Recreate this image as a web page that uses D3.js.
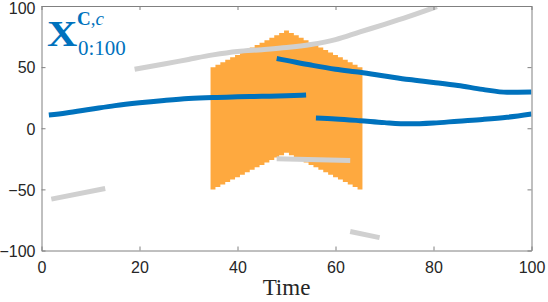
<!DOCTYPE html>
<html>
<head>
<meta charset="utf-8">
<script src="https://cdn.jsdelivr.net/npm/d3@7"></script>
<style>
  body { margin: 0; background: #fff; }
  .tick text { font-family: "Liberation Sans", Arial, sans-serif; font-size: 16px; fill: #262626; }
</style>
</head>
<body>
<div id="chart"></div>
<script>
// band (stairs) data
var bandTime  = [35,36,37,38,39,40,41,42,43,44,45,46,47,48,49,50,51,52,53,54,55,56,57,58,59,60,61,62,63,64,65];
var bandLower = [-50,-48,-46,-44,-42,-40,-38,-36,-34,-32,-30,-28,-26,-24,-22,-20,-22,-24,-26,-28,-30,-32,-34,-36,-38,-40,-42,-44,-46,-48,-50];
var bandUpper = [50,52,54,56,58,60,62,64,66,68,70,72,74,76,78,80,78,76,74,72,70,68,66,64,62,60,58,56,54,52,50];

// blue segments
var blue1T = [1.5, 5, 10, 15, 20, 25, 30, 35, 40, 45, 50, 54];
var blue1V = [10.8, 12.5, 15.5, 18.5, 20.8, 22.7, 24.3, 25.2, 25.7, 26.1, 26.6, 27.2];
var blue2T = [48, 50, 55, 60, 65, 70, 75, 80, 85, 90, 95, 100];
var blue2V = [57, 55.5, 51.7, 48.3, 45.8, 42.8, 39.8, 37.5, 35, 31.8, 29.4, 29.6];
var blue3T = [56, 60, 65, 70, 75, 80, 85, 90, 95, 100];
var blue3V = [8.3, 7.6, 6.2, 4.6, 3.6, 4.3, 5.8, 7.2, 9.0, 11.7];

// grey segments
var grey1T = [19, 25, 30, 35, 40, 45, 50, 55, 60, 65, 70, 75, 80.7];
var grey1V = [48.3, 52.5, 56.3, 60, 62.8, 64.3, 66, 68.5, 72.5, 78.8, 85, 91.5, 99.5];
var grey2T = [2, 13];
var grey2V = [-58, -49.3];
var grey3T = [48, 63];
var grey3V = [-25, -26.4];
var grey4T = [63, 69];
var grey4V = [-84.5, -89.5];

var xTicks = [0, 20, 40, 60, 80, 100];
var yTicks = [-100, -50, 0, 50, 100];

var svgWidth = 548, svgHeight = 302;
var margin = { top: 6, right: 16.5, bottom: 51.5, left: 41.5 };
var width = svgWidth - margin.left - margin.right;
var height = svgHeight - margin.top - margin.bottom;

var svg = d3.select("#chart").append("svg").attr("width", svgWidth).attr("height", svgHeight);
var chartGroup = svg.append("g").attr("transform", `translate(${margin.left}, ${margin.top})`);

svg.append("defs").append("clipPath").attr("id", "clip")
  .append("rect").attr("width", width).attr("height", height);

var x = d3.scaleLinear().domain([0, 100]).range([0, width]);
var y = d3.scaleLinear().domain([-100, 100]).range([height, 0]);

var plot = chartGroup.append("g").attr("clip-path", "url(#clip)");

// orange stairs: each time step covers t-0.5 .. t+0.5
var stairs = [];
bandTime.forEach(function(t, i) {
  stairs.push({ t: t - 0.5, lo: bandLower[i], hi: bandUpper[i] });
  stairs.push({ t: t + 0.5, lo: bandLower[i], hi: bandUpper[i] });
});
var area = d3.area().x(d => x(d.t)).y0(d => y(d.lo)).y1(d => y(d.hi));
plot.append("path").datum(stairs).attr("d", area).attr("fill", "#FEA93F");

function drawLine(ts, vs, color) {
  var pts = ts.map((t, i) => [t, vs[i]]);
  var line = d3.line().x(d => x(d[0])).y(d => y(d[1])).curve(d3.curveMonotoneX);
  plot.append("path").datum(pts).attr("d", line)
    .attr("fill", "none").attr("stroke", color).attr("stroke-width", 5)
    .attr("stroke-linecap", "butt");
}
drawLine(grey1T, grey1V, "#D0D0D0");
drawLine(grey2T, grey2V, "#D0D0D0");
drawLine(grey3T, grey3V, "#D0D0D0");
drawLine(grey4T, grey4V, "#D0D0D0");
drawLine(blue1T, blue1V, "#0072BD");
drawLine(blue2T, blue2V, "#0072BD");
drawLine(blue3T, blue3V, "#0072BD");

// axes (MATLAB box with inward ticks)
var axisColor = "#808080";
var bottomAxis = d3.axisBottom(x).tickValues(xTicks).tickSizeInner(-4).tickSizeOuter(0).tickPadding(11);
var leftAxis = d3.axisLeft(y).tickValues(yTicks).tickSizeInner(-4).tickSizeOuter(0).tickPadding(6);
var xAxis = chartGroup.append("g").attr("transform", `translate(0, ${height})`).call(bottomAxis);
var yAxis = chartGroup.append("g").call(leftAxis);
var topAxis = chartGroup.append("g").call(d3.axisTop(x).tickValues(xTicks).tickSizeInner(-4).tickSizeOuter(0).tickFormat(""));
var rightAxis = chartGroup.append("g").attr("transform", `translate(${width}, 0)`)
  .call(d3.axisRight(y).tickValues(yTicks).tickSizeInner(-4).tickSizeOuter(0).tickFormat(""));
[xAxis, yAxis, topAxis, rightAxis].forEach(function(g) {
  g.select(".domain").attr("stroke", axisColor);
  g.selectAll(".tick line").attr("stroke", axisColor);
});
yAxis.selectAll(".tick text").attr("dy", d => d === 100 ? "0.48em" : "0.36em");

// x label
chartGroup.append("text")
  .attr("x", width / 2).attr("y", height + 44)
  .attr("text-anchor", "middle")
  .style("font-family", "'Liberation Serif', 'Times New Roman', serif")
  .style("font-size", "23px").style("fill", "#262626")
  .text("Time");

// series label X^{C,c}_{0:100}
var lab = svg.append("g").style("font-family", "'Liberation Serif', 'Times New Roman', serif").style("fill", "#0072BD");
lab.append("text").attr("transform", "translate(47,46) scale(1.2,1)")
  .style("font-size", "35px").style("font-weight", "bold").text("X");
var sup = lab.append("text").attr("x", 77).attr("y", 24.5).style("font-size", "19px");
sup.append("tspan").style("font-weight", "bold").text("C");
sup.append("tspan").text(",");
sup.append("tspan").style("font-style", "italic").text("c");
lab.append("text").attr("x", 78).attr("y", 55).style("font-size", "21px").text("0:100");
</script>
</body>
</html>
